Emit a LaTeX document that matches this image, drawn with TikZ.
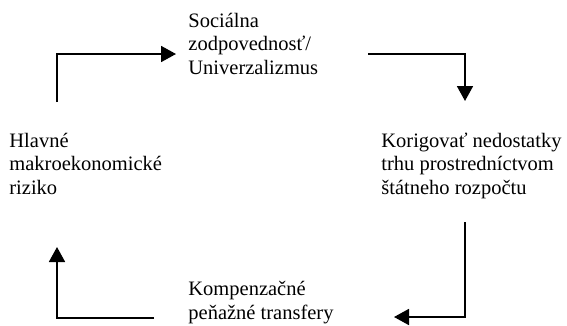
\documentclass[tikz,border=0pt]{standalone}
\usepackage{fontspec}
\setmainfont{Liberation Serif}
\usetikzlibrary{arrows.meta}

\begin{document}
\begin{tikzpicture}[x=1pt, y=-1pt, thick,
  txt node/.style={inner sep=0, align=left, anchor=base west, font=\fontsize{20.5}{23.5}\selectfont},
  flow line/.style={line width=1.8pt, -{Triangle[length=15pt, width=16pt]}}]
\useasboundingbox (0,0) rectangle (567,325);
\node[txt node] (soc) at (188,74) {Sociálna\\zodpovednosť/\\Univerzalizmus};
\node[txt node] (hlavne) at (9,194) {Hlavné\\makroekonomické\\riziko};
\node[txt node] (kor) at (381,194) {Korigovať nedostatky\\trhu prostredníctvom\\štátneho rozpočtu};
\node[txt node] (komp) at (188,319) {Kompenzačné\\peňažné transfery};
% cycle
\draw[flow line] ([xshift=48pt, yshift=92pt]hlavne.base west) |- ([xshift=-12pt, yshift=20pt]soc.base west);
\draw[flow line] ([xshift=180pt, yshift=20pt]soc.base west) -| ([xshift=84pt, yshift=93pt]kor.base west);
\draw[flow line] ([xshift=84pt, yshift=-28pt]kor.base west) |- ([xshift=206pt, yshift=2pt]komp.base west);
\draw[flow line] ([xshift=-34pt, yshift=1pt]komp.base west) -| ([xshift=48pt, yshift=-53pt]hlavne.base west);
\end{tikzpicture}
\end{document}
